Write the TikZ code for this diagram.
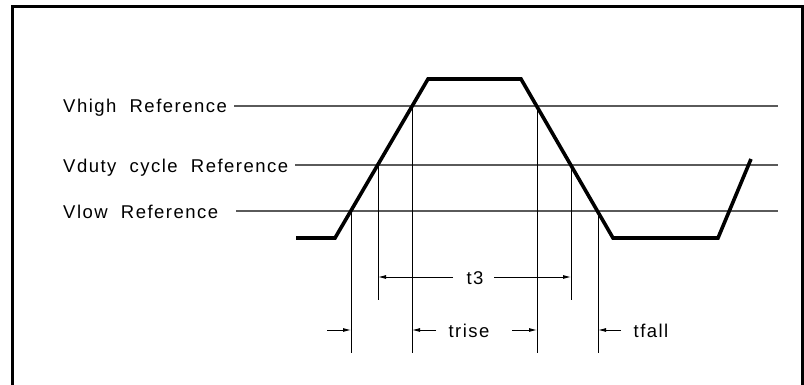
\documentclass[tikz,border=0pt]{standalone}
\usepackage{fontspec}
\setmainfont{Liberation Sans}[LetterSpace=8,WordSpace=2]
\usetikzlibrary{arrows.meta,positioning}
\definecolor{refgrey}{HTML}{5A5A5A}

\begin{document}
\begin{tikzpicture}[x=1pt,y=-1pt,
  frame/.style={line width=3pt},
  refline/.style={refgrey,line width=1.3pt},
  extline/.style={line width=0.9pt},
  signal/.style={line width=3.6pt,line join=miter},
  dimarrow/.style={-{Latex[length=8pt,width=4pt]},line width=0.9pt},
  lbl/.style={font=\fontsize{18.5}{21}\selectfont,inner sep=0pt,anchor=base west},
  dimlbl/.style={font=\fontsize{18.5}{21}\selectfont,inner sep=0pt,anchor=base}
]
\useasboundingbox (0,0) rectangle (804,385);
\draw[frame] (12,386) -- (12,7) -- (802,7) -- (802,386);

% reference levels
\node[lbl] (vhigh) at (63,112.5) {Vhigh Reference};
\node[lbl] (vduty) at (63,173) {Vduty cycle Reference};
\node[lbl] (vlow) at (63,218.5) {Vlow Reference};
\coordinate (hi1) at (234,106);
\coordinate (hi2) at (778,106);
\coordinate (du1) at (295,165);
\coordinate (du2) at (778,165);
\coordinate (lo1) at (236,211);
\coordinate (lo2) at (778,211);
\draw[refline] (hi1) -- (hi2);
\draw[refline] (du1) -- (du2);
\draw[refline] (lo1) -- (lo2);

% waveform
\coordinate (s0) at (296,238);
\coordinate (s1) at (335,238);
\coordinate (s2) at (428,79);
\coordinate (s3) at (521,79);
\coordinate (s4) at (613,238);
\coordinate (s5) at (718,238);
\coordinate (s6) at (751,159);
\draw[signal] (s0) -- (s1) -- (s2) -- (s3) -- (s4) -- (s5) -- (s6);

% extension lines
\draw[extline] (351,211) -- (351,353);
\draw[extline] (378,165) -- (378,300);
\draw[extline] (412,106) -- (412,353);
\draw[extline] (537,106) -- (537,353);
\draw[extline] (571,165) -- (571,300);
\draw[extline] (598,211) -- (598,353);

% t3
\node[dimlbl] (t3) at (475,284) {t3};
\coordinate (t3a) at (453,277);
\coordinate (t3b) at (494,277);
\draw[dimarrow] (t3a) -- (378,277);
\draw[dimarrow] (t3b) -- (571,277);

% trise / tfall
\node[dimlbl] (trise) at (469,337) {trise};
\node[dimlbl] (tfall) at (651,337) {tfall};
\coordinate (r1) at (327,330);
\coordinate (r2) at (436,330);
\coordinate (r3) at (512,330);
\coordinate (f1) at (621,330);
\draw[dimarrow] (r1) -- (351,330);
\draw[dimarrow] (r2) -- (412,330);
\draw[dimarrow] (r3) -- (537,330);
\draw[dimarrow] (f1) -- (598,330);
\end{tikzpicture}
\end{document}
